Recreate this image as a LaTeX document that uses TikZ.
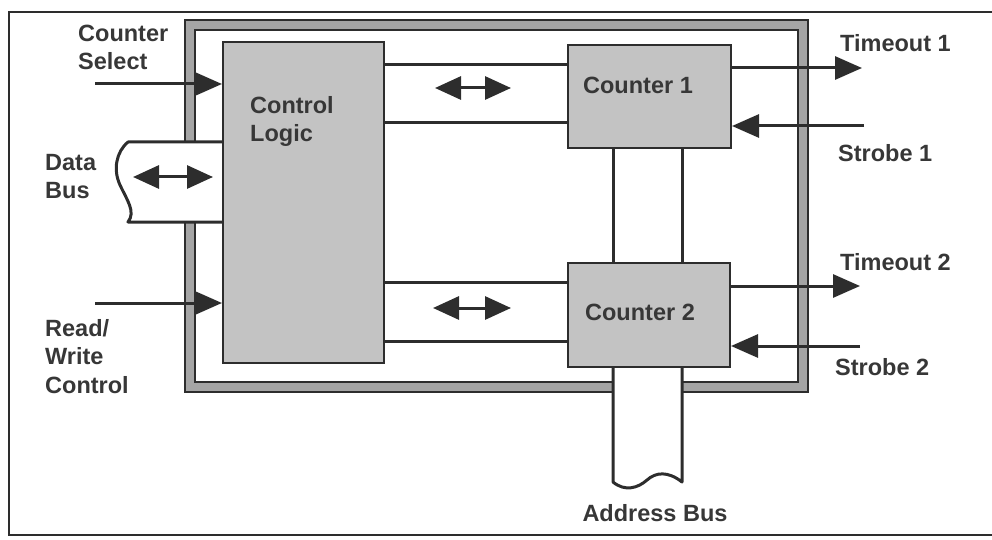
\documentclass[tikz,border=0pt]{standalone}
\usepackage{fontspec}
\setmainfont{Liberation Sans}
\usetikzlibrary{arrows.meta}
\definecolor{ink}{RGB}{45,45,45}
\definecolor{txt}{RGB}{55,55,55}
\definecolor{shade}{RGB}{195,195,195}
\definecolor{bandc}{RGB}{165,165,165}
\begin{document}
\begin{tikzpicture}[x=1pt,y=-1pt,
  box/.style={draw=ink,line width=2pt,fill=shade,inner sep=0pt},
  lbl/.style={text=txt,font=\fontsize{23.5}{28.5}\selectfont\bfseries,inner sep=0pt,align=left},
  wire/.style={draw=ink,line width=3pt},
  arr/.style={wire,-{Triangle[length=27pt,width=23pt]}},
  darr/.style={wire,{Triangle[length=26pt,width=23pt]}-{Triangle[length=26pt,width=23pt]}},
  frame/.style={draw=ink,line width=1.5pt},
]
\useasboundingbox (0,0) rectangle (992,540);
% outer frame (open at right edge)
\draw[frame] (992,12) -- (9,12) -- (9,535) -- (992,535);
% chip frame band
\fill[bandc,even odd rule] (185,20) rectangle (808,392) (195,30) rectangle (798,382);
\draw[frame] (185,20) rectangle (808,392) (195,30) rectangle (798,382);
\fill[white] (182,143) rectangle (198,221);
\fill[white] (614,379) rectangle (681,395);
% blocks
\node[box,minimum width=161pt,minimum height=321pt] (cl) at (303.5,202.5) {};
\node[box,minimum width=163pt,minimum height=103pt] (c1) at (649.5,96.5) {};
\node[box,minimum width=162pt,minimum height=104pt] (c2) at (649,315) {};
% block texts
\node[lbl,anchor=west] (tcl) at (250,121.5) {Control\\Logic};
\node[lbl] (tc1) at (638,85) {Counter 1};
\node[lbl] (tc2) at (640,312) {Counter 2};
% outside labels
\node[lbl,anchor=west] (lcs) at (78,47.5) {Counter\\Select};
\node[lbl,anchor=west] (ldb) at (45,176.5) {Data\\Bus};
\node[lbl,anchor=west] (lrw) at (45,356.5) {Read/\\Write\\Control};
\node[lbl,anchor=west] (lt1) at (840,43) {Timeout 1};
\node[lbl,anchor=west] (ls1) at (838,153) {Strobe 1};
\node[lbl,anchor=west] (lt2) at (840,262) {Timeout 2};
\node[lbl,anchor=west] (ls2) at (835,367) {Strobe 2};
\node[lbl] (lab) at (655,513) {Address Bus};
% inputs to control logic
\coordinate (cs) at (95,84);
\draw[arr] (cs) -- (cs -| cl.west);
\coordinate (rw) at (95,303);
\draw[arr] (rw) -- (rw -| cl.west);
% data bus
\coordinate (db1) at (128,142);
\coordinate (db2) at (128,222);
\draw[wire,line join=round] (db1 -| cl.west) -- (db1)
  .. controls (116,152) and (113,170) .. (120,185)
  .. controls (127,200) and (136,212) .. (db2) -- (db2 -| cl.west);
\coordinate (dba) at (133,177);
\coordinate (dbb) at (213,177);
\draw[darr] (dba) -- (dbb);
% internal buses to counters
\coordinate (h1) at (0,65);
\coordinate (h2) at (0,123);
\coordinate (h3) at (0,282);
\coordinate (h4) at (0,341);
\draw[wire] (h1 -| cl.east) -- (h1 -| c1.west);
\draw[wire] (h2 -| cl.east) -- (h2 -| c1.west);
\draw[wire] (h3 -| cl.east) -- (h3 -| c2.west);
\draw[wire] (h4 -| cl.east) -- (h4 -| c2.west);
\coordinate (d1a) at (435,88);
\coordinate (d1b) at (511,88);
\draw[darr] (d1a) -- (d1b);
\coordinate (d2a) at (433,308);
\coordinate (d2b) at (511,308);
\draw[darr] (d2a) -- (d2b);
% counter outputs / inputs
\coordinate (t1) at (862,68);
\draw[arr] (t1 -| c1.east) -- (t1);
\coordinate (s1) at (864,126);
\draw[arr] (s1) -- (s1 -| c1.east);
\coordinate (t2) at (860,286);
\draw[arr] (t2 -| c2.east) -- (t2);
\coordinate (s2) at (860,346);
\draw[arr] (s2) -- (s2 -| c2.east);
% links between counters
\coordinate (v1) at (613,0);
\coordinate (v2) at (682,0);
\draw[wire] (v1 |- c1.south) -- (v1 |- c2.north);
\draw[wire] (v2 |- c1.south) -- (v2 |- c2.north);
% address bus
\coordinate (ab1) at (613,482);
\coordinate (ab2) at (682,482);
\draw[wire,line join=round] (ab1 |- c2.south) -- (ab1)
  .. controls (625,492) and (638,488) .. (647,480)
  .. controls (656,472) and (668,471) .. (ab2) -- (ab2 |- c2.south);
\end{tikzpicture}
\end{document}
